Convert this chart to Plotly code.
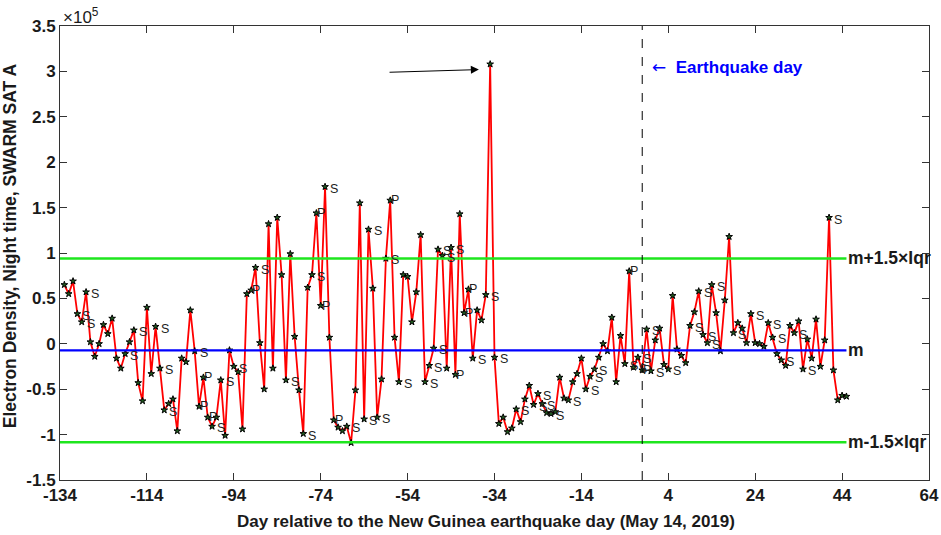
import plotly.graph_objects as go

# Day relative to the earthquake day (index 1..181 -> day -133..47)
days = list(range(-133, 48))

# Electron density, night time, SWARM SAT A (units of 1e5)
density = [
    0.65, 0.55, 0.69, 0.33, 0.24, 0.57, 0.02, -0.14, 0.00, 0.21,
    0.11, 0.28, -0.16, -0.27, -0.11, 0.02, 0.15, -0.43, -0.63, 0.40,
    -0.33, 0.19, -0.27, -0.73, -0.66, -0.61, -0.96, -0.16, -0.20, 0.37,
    -0.08, -0.69, -0.37, -0.81, -0.91, -0.81, -0.40, -1.01, -0.07, -0.25,
    -0.31, -0.94, 0.55, 0.59, 0.84, 0.01, -0.50, 1.32, -0.27, 1.39,
    0.76, -0.40, 0.99, 0.08, -0.51, -0.99, 0.62, 0.76, 1.44, 0.42,
    1.73, 0.07, -0.84, -0.92, -0.96, -0.91, -1.09, -0.51, 1.55, -0.83,
    1.26, 0.61, -0.81, -0.39, 0.94, 1.58, 0.07, -0.42, 0.76, 0.74,
    0.24, 0.57, 1.20, -0.42, -0.24, -0.05, 1.04, 0.97, -0.27, 1.06,
    -0.34, 1.43, 0.34, 0.60, -0.16, 0.37, 0.26, 0.54, 3.08, -0.15,
    -0.88, -0.81, -0.97, -0.93, -0.72, -0.86, -0.61, -0.46, -0.67, -0.55,
    -0.66, -0.76, -0.77, -0.75, -0.37, -0.60, -0.62, -0.42, -0.33, -0.16,
    -0.50, -0.36, -0.28, -0.15, 0.00, -0.08, 0.29, -0.42, 0.09, -0.22,
    0.80, -0.26, -0.15, -0.29, 0.16, -0.30, 0.04, 0.17, -0.23, -0.28,
    0.53, -0.06, -0.13, -0.21, 0.20, 0.35, 0.58, 0.10, 0.01, 0.65,
    0.34, -0.08, 0.48, 1.18, 0.12, 0.23, 0.17, 0.01, 0.33, 0.01,
    0.00, -0.03, 0.23, 0.07, -0.11, -0.18, -0.24, 0.20, 0.12, 0.25,
    -0.28, 0.05, -0.16, 0.27, -0.25, 0.04, 1.39, -0.29, -0.62, -0.57,
    -0.58,
]

# Point labels (by point index 1..181)
s_points = [4, 5, 6, 15, 17, 22, 23, 24, 31, 35, 37, 40, 45, 52, 56, 58, 61, 66,
            70, 71, 73, 75, 78, 84, 85, 86, 87, 88, 90, 95, 98, 100, 105, 109,
            110, 111, 113, 117, 121, 122, 123, 130, 132, 133, 135, 136, 140, 145,
            147, 148, 149, 150, 155, 159, 163, 164, 166, 169, 171, 177]
p_points = [32, 33, 34, 44, 59, 60, 63, 76, 91, 93, 94, 131, 134]

# Statistics (units of 1e5)
median_m = -0.0725
band = 1.0125  # 1.5 x IQR

x_ticks = [-134, -114, -94, -74, -54, -34, -14, 6, 26, 46, 66]
x_ticktext = ['-134', '-114', '-94', '-74', '-54', '-34', '-14', '4', '24', '44', '64']
y_ticks = [-1.5, -1, -0.5, 0, 0.5, 1, 1.5, 2, 2.5, 3, 3.5]
y_ticktext = ['-1.5', '-1', '-0.5', '0', '0.5', '1', '1.5', '2', '2.5', '3', '3.5']

peak_day, peak_val = -35, 3.08
quake_day = 0

FONT = "Arial, Liberation Sans, sans-serif"
TXT = "#1a1a1a"

fig = go.Figure()

fig.add_trace(go.Scatter(
    x=days, y=density, mode="lines+markers",
    line=dict(color="red", width=1.8),
    marker=dict(symbol="star", size=5, color="#1f5a1f", line=dict(color="black", width=1)),
    hoverinfo="x+y", showlegend=False,
))

x0 = x_ticks[0]
x1 = days[-1]
for val, col, w, lab in [
    (median_m + band, "#1ee61e", 2.5, "m+1.5\u00d7Iqr"),
    (median_m, "#0000ff", 2.2, "m"),
    (median_m - band, "#1ee61e", 2.5, "m-1.5\u00d7Iqr"),
]:
    fig.add_trace(go.Scatter(x=[x0, x1], y=[val, val], mode="lines",
                             line=dict(color=col, width=w), showlegend=False,
                             hoverinfo="skip"))
    fig.add_annotation(x=x1, y=val, text=lab, showarrow=False, xanchor="left",
                       yanchor="middle", xshift=0,
                       font=dict(family=FONT, size=17.5, color=TXT, weight="bold"))

# vertical dashed earthquake line
fig.add_shape(type="line", x0=quake_day, x1=quake_day, y0=0, y1=1, xref="x", yref="paper",
              line=dict(color="black", width=1, dash="dash"))

for i in s_points:
    fig.add_annotation(x=days[i - 1], y=density[i - 1], text="S", showarrow=False,
                       xanchor="left", yanchor="middle", xshift=3, yshift=-2,
                       font=dict(family=FONT, size=12.5, color="#222"))
for i in p_points:
    fig.add_annotation(x=days[i - 1], y=density[i - 1], text="P", showarrow=False,
                       xanchor="left", yanchor="middle", xshift=-1, yshift=0,
                       font=dict(family=FONT, size=12.5, color="#222"))

# arrow pointing to peak
fig.add_annotation(x=peak_day - 2.6, y=peak_val - 0.06, ax=peak_day - 23.5, ay=peak_val - 0.09,
                   xref="x", yref="y", axref="x", ayref="y", text="", showarrow=True,
                   arrowhead=2, arrowsize=1.6, arrowwidth=1, arrowcolor="black")

fig.add_annotation(x=quake_day + 1.8, y=3.045,
                   text="<span style=\"font-family:'DejaVu Sans'\">\u2190</span>  <b>Earthquake day</b>",
                   showarrow=False, xanchor="left", yanchor="middle",
                   font=dict(family=FONT, size=17, color="#0000ff"))

fig.add_annotation(x=0, y=1, xref="paper", yref="paper", text="\u00d710<sup>5</sup>",
                   showarrow=False, xanchor="left", yanchor="bottom", xshift=1, yshift=-3,
                   font=dict(family=FONT, size=17, color=TXT))

# axis titles
fig.add_annotation(x=0.49, y=-0.092, xref="paper", yref="paper",
                   text="Day relative to the New Guinea earthquake day (May 14, 2019)",
                   showarrow=False, xanchor="center", yanchor="middle",
                   font=dict(family=FONT, size=17, color=TXT, weight="bold"))
fig.add_annotation(x=-0.0575, y=0.515, xref="paper", yref="paper",
                   text="Electron Density, Night time, SWARM SAT A", textangle=-90,
                   showarrow=False, xanchor="center", yanchor="middle",
                   font=dict(family=FONT, size=17.5, color=TXT, weight="bold"))

axis_common = dict(showgrid=False, zeroline=False, showline=True, linecolor="#333",
                   linewidth=1, mirror="ticks", ticks="inside", ticklen=7, tickcolor="#333",
                   automargin=False,
                   tickfont=dict(family=FONT, size=17, color=TXT, weight="bold"))

fig.update_xaxes(range=[-134, 66], tickvals=x_ticks, ticktext=x_ticktext, **axis_common)
fig.update_yaxes(range=[-1.5, 3.5], tickvals=y_ticks, ticktext=y_ticktext, **axis_common)

fig.update_layout(width=941, height=535, plot_bgcolor="white", paper_bgcolor="white",
                  margin=dict(l=60, r=11.5, t=26, b=55), showlegend=False,
                  font=dict(family=FONT))

# remove the default page margin so the figure sits at the window's top-left corner
fig.write_html("out.html", config={"displayModeBar": False},
               post_script="document.body.style.margin='0px';")
